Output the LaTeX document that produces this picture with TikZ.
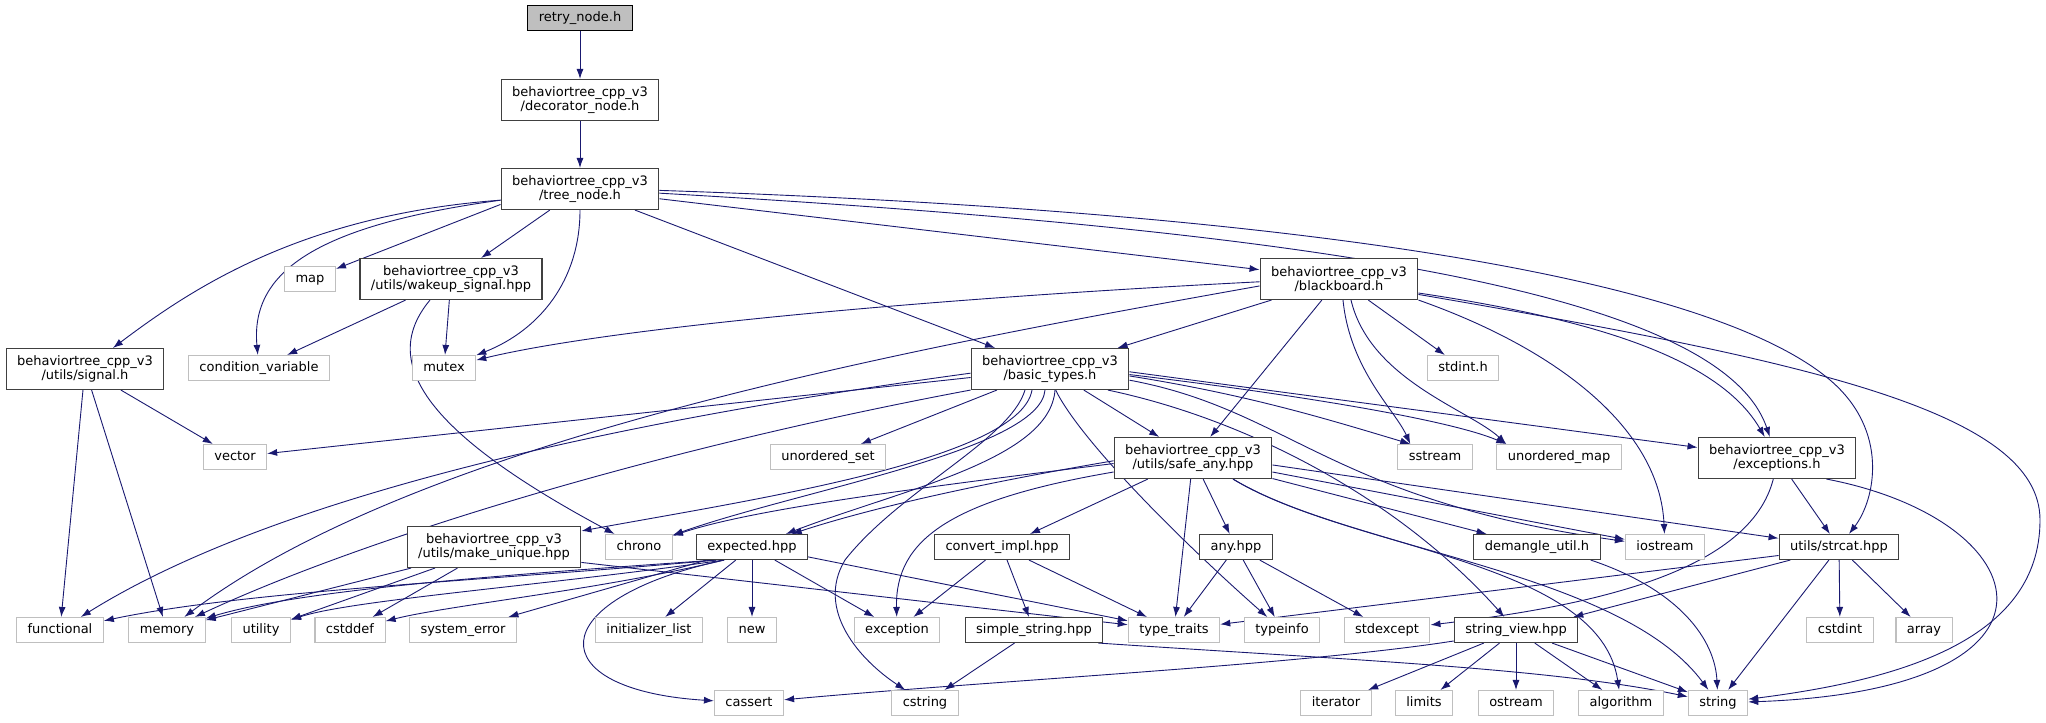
\documentclass[tikz,border=0pt]{standalone}
\usepackage{fontspec}
\setmainfont{DejaVu Sans}
\usetikzlibrary{positioning}
\usetikzlibrary{arrows.meta}
\usetikzlibrary{backgrounds}
\usetikzlibrary{calc}

\definecolor{edgeblue}{HTML}{191970}
\definecolor{incgray}{HTML}{404040}
\definecolor{sysgray}{HTML}{BFBFBF}

\begin{document}
\begin{tikzpicture}[x=1pt, y=-1pt,
    filebox/.style={rectangle, fill=white, line width=1.1pt, inner xsep=11pt, inner ysep=0pt, font=\fontsize{13}{14.5}\selectfont},
    onerow/.style={filebox, text height=9.6pt, text depth=3.2pt, minimum height=25pt},
    tworow/.style={filebox, align=center, minimum height=41pt},
    inc/.style={draw=incgray},
    sys/.style={draw=sysgray},
    rootbox/.style={onerow, draw=black, fill=sysgray},
    dep/.style={edgeblue, line width=0.9pt, -{Latex[length=10pt,width=7pt]}}]
%     \draw[help lines](0,0) grid[step=100] (2046,723);

    \useasboundingbox (0,0) rectangle (2046,723);

    %%%% headers of the project %%%%

    \node[rootbox] (retry) at (580,18) {retry\_node.h};
    \node[tworow, inc] (deco) at ($(retry)+(0,82)$) {behaviortree\_cpp\_v3\\/decorator\_node.h};
    \node[tworow, inc] (tree) at ($(deco)+(0,89)$) {behaviortree\_cpp\_v3\\/tree\_node.h};

    \node[tworow, inc] (wakeup) at (451,279) {behaviortree\_cpp\_v3\\/utils/wakeup\_signal.hpp};
    \node[tworow, inc] (board) at (1339,279) {behaviortree\_cpp\_v3\\/blackboard.h};
    \node[tworow, inc] (signal) at (85,369) {behaviortree\_cpp\_v3\\/utils/signal.h};
    \node[tworow, inc] (basic) at (1050,369) {behaviortree\_cpp\_v3\\/basic\_types.h};
    \node[tworow, inc] (safeany) at (1193,458) {behaviortree\_cpp\_v3\\/utils/safe\_any.hpp};
    \node[tworow, inc] (except) at (1777,458) {behaviortree\_cpp\_v3\\/exceptions.h};
    \node[tworow, inc] (mkuniq) at (494,547) {behaviortree\_cpp\_v3\\/utils/make\_unique.hpp};

    \node[onerow, inc] (expected) at (752,547) {expected.hpp};
    \node[onerow, inc] (convert) at (1002,547) {convert\_impl.hpp};
    \node[onerow, inc] (anyhpp) at (1236,547) {any.hpp};
    \node[onerow, inc] (demangle) at (1537,547) {demangle\_util.h};
    \node[onerow, inc] (strcat) at (1839,547) {utils/strcat.hpp};
    \node[onerow, inc] (simplestr) at (1034,630) {simple\_string.hpp};
    \node[onerow, inc] (strview) at (1516,630) {string\_view.hpp};

    %%%% system headers %%%%

    \node[onerow, sys] (map) at (310,279) {map};
    \node[onerow, sys] (condvar) at (259,368) {condition\_variable};
    \node[onerow, sys] (mutex) at (444,368) {mutex};
    \node[onerow, sys] (stdint) at (1463,368) {stdint.h};
    \node[onerow, sys] (vector) at (235,457) {vector};
    \node[onerow, sys] (uset) at (828,457) {unordered\_set};
    \node[onerow, sys] (sstream) at (1435,457) {sstream};
    \node[onerow, sys] (umap) at (1559,457) {unordered\_map};
    \node[onerow, sys] (chrono) at (639,547) {chrono};
    \node[onerow, sys] (iostream) at (1665,547) {iostream};

    \node[onerow, sys] (functional) at (60,630) {functional};
    \node[onerow, sys] (memory) at (167,630) {memory};
    \node[onerow, sys] (utility) at (261,630) {utility};
    \node[onerow, sys] (cstddef) at (350,630) {cstddef};
    \node[onerow, sys] (syserr) at (463,630) {system\_error};
    \node[onerow, sys] (initlist) at (649,630) {initializer\_list};
    \node[onerow, sys] (new) at (752,630) {new};
    \node[onerow, sys] (exception) at (897,630) {exception};
    \node[onerow, sys] (ttraits) at (1174,630) {type\_traits};
    \node[onerow, sys] (typeinfo) at (1282,630) {typeinfo};
    \node[onerow, sys] (stdexcept) at (1387,630) {stdexcept};
    \node[onerow, sys] (cstdint) at (1840,630) {cstdint};
    \node[onerow, sys] (array) at (1924,630) {array};

    \node[onerow, sys] (cassert) at (749,703) {cassert};
    \node[onerow, sys] (cstring) at (925,703) {cstring};
    \node[onerow, sys] (iterator) at (1336,703) {iterator};
    \node[onerow, sys] (limits) at (1424,703) {limits};
    \node[onerow, sys] (ostream) at (1516,703) {ostream};
    \node[onerow, sys] (algorithm) at (1621,703) {algorithm};
    \node[onerow, sys] (string) at (1718,703) {string};

    \begin{scope}[on background layer]

    %%% retry_node.h -> tree_node.h %%%

    \path[dep] (retry) edge (deco);
    \path[dep] (deco) edge (tree);

    %%% tree_node.h %%%

    \draw[dep] (tree.188) .. controls (300,215) and (190,290) .. (signal);
    \draw[dep] (tree.188) .. controls (320,225) and (250,270) .. (condvar);
    \path[dep] (tree.191) edge (map);
    \path[dep] (tree) edge (wakeup);
    \draw[dep] (tree.south) .. controls (580,280) and (540,330) .. (mutex);
    \path[dep] (tree) edge (basic);
    \path[dep] (tree.353) edge (board);
    \draw[dep] (tree.357) .. controls (1300,230) and (1720,290) .. (except);
    \draw[dep] (tree.359) .. controls (1250,210) and (1700,270) .. (1830,380) .. controls (1890,431) and (1875,500) .. (strcat);

    %%% signal.h %%%

    \path[dep] (signal) edge (functional);
    \path[dep] (signal) edge (memory);
    \path[dep] (signal) edge (vector);

    %%% wakeup_signal.hpp %%%

    \path[dep] (wakeup) edge (condvar);
    \path[dep] (wakeup) edge (mutex);
    \draw[dep] ([xshift=-21pt]wakeup.south) .. controls (380,360) and (420,430) .. (chrono);

    %%% blackboard.h %%%

    \draw[dep] (board.182) .. controls (900,300) and (600,330) .. (mutex);
    \draw[dep] (board.185) .. controls (900,350) and (420,440) .. (memory);
    \path[dep] (board) edge (basic);
    \path[dep] (board) edge (safeany);
    \path[dep] (board) edge (stdint);
    \draw[dep] ([xshift=4pt]board.south) .. controls (1350,370) and (1395,410) .. ([xshift=13pt]sstream.north west);
    \draw[dep] ([xshift=12pt]board.south) .. controls (1370,380) and (1470,410) .. ([xshift=10pt]umap.north west);
    \draw[dep] (board.south east) .. controls (1560,350) and (1660,430) .. (iostream);
    \draw[dep] (board.350) .. controls (1600,320) and (1720,360) .. (except);
    \draw[dep] (board.349) .. controls (1800,360) and (2040,410) .. (2040,520) .. controls (2040,640) and (1900,680) .. (string);

    %%% basic_types.h %%%

    \path[dep] (basic) edge (vector);
    \draw[dep] (basic.183) .. controls (700,410) and (300,480) .. (functional);
    \draw[dep] (basic.south west) .. controls (650,450) and (360,540) .. (memory);
    \path[dep] (basic) edge (uset);
    \draw[dep] ([xshift=-5pt]basic.south) .. controls (1040,450) and (800,490) .. (chrono);
    \draw[dep] ([xshift=-18pt]basic.south) .. controls (1020,460) and (750,500) .. (mkuniq);
    \draw[dep] ([xshift=5pt]basic.south) .. controls (1050,460) and (900,490) .. (expected);
    \draw[dep] ([xshift=-25pt]basic.south) .. controls (1010,440) and (900,490) .. (845,560) .. controls (815,610) and (860,660) .. (cstring);
    \draw[dep] (basic.285) .. controls (1080,440) and (1180,540) .. (typeinfo);
    \path[dep] (basic) edge (safeany);
    \draw[dep] (basic.355) .. controls (1250,395) and (1330,420) .. ([xshift=13pt]sstream.north west);
    \draw[dep] (basic.356) .. controls (1300,395) and (1450,420) .. ([xshift=10pt]umap.north west);
    \path[dep] (basic.358) edge (except);
    \draw[dep] (basic.352) .. controls (1290,410) and (1330,500) .. (iostream);
    \draw[dep] (basic.340) .. controls (1250,420) and (1400,500) .. (strview);

    %%% safe_any.hpp %%%

    \path[dep] (safeany) edge (convert);
    \path[dep] (safeany) edge (ttraits);
    \path[dep] (safeany) edge (anyhpp);
    \path[dep] (safeany) edge (demangle);
    \path[dep] (safeany.350) edge (iostream);
    \path[dep] (safeany.355) edge (strcat);
    \draw[dep] ([xshift=40pt]safeany.south) .. controls (1350,550) and (1600,560) .. (algorithm);
    \draw[dep] ([xshift=40pt]safeany.south) .. controls (1350,550) and (1620,570) .. (string);
    \draw[dep] (safeany.184) .. controls (900,490) and (750,510) .. (chrono);
    \draw[dep] (safeany.182) .. controls (1000,480) and (880,505) .. (expected);
    \draw[dep] (safeany.190) .. controls (950,500) and (895,540) .. (exception);

    %%% make_unique.hpp %%%

    \path[dep] (mkuniq) edge (memory);
    \path[dep] (mkuniq) edge (utility);
    \path[dep] (mkuniq) edge (cstddef);
    \path[dep] (mkuniq.350) edge (ttraits);

    %%% expected.hpp %%%

    \draw[dep] (expected.200) .. controls (500,580) and (250,590) .. (functional);
    \draw[dep] (expected.200) .. controls (500,575) and (300,590) .. (memory);
    \draw[dep] (expected.205) .. controls (550,585) and (350,600) .. (utility);
    \draw[dep] (expected.205) .. controls (600,590) and (450,605) .. (cstddef);
    \path[dep] (expected) edge (syserr);
    \path[dep] (expected) edge (initlist);
    \path[dep] (expected) edge (new);
    \path[dep] (expected) edge (exception);
    \path[dep] (expected.350) edge (ttraits);
    \draw[dep] (expected.205) .. controls (540,600) and (540,690) .. (cassert);

    %%% convert_impl.hpp, any.hpp, demangle_util.h %%%

    \path[dep] (convert) edge (exception);
    \path[dep] (convert) edge (simplestr);
    \path[dep] (convert) edge (ttraits);

    \path[dep] (anyhpp) edge (ttraits);
    \path[dep] (anyhpp) edge (typeinfo);
    \path[dep] (anyhpp) edge (stdexcept);

    \draw[dep] ([xshift=-10pt]demangle.south east) .. controls (1680,590) and (1715,640) .. (string);

    %%% exceptions.h %%%

    \path[dep] (except) edge (strcat);
    \draw[dep] ([xshift=-30pt]except.south east) .. controls (2040,520) and (2090,690) .. (string);
    \draw[dep] (except.260) .. controls (1750,570) and (1600,605) .. (stdexcept);

    %%% strcat.hpp %%%

    \path[dep] (strcat.188) edge (ttraits);
    \path[dep] (strcat.195) edge ([xshift=-5pt]strview.north east);
    \path[dep] (strcat) edge (cstdint);
    \path[dep] (strcat) edge (array);
    \path[dep] (strcat) edge (string);

    %%% string_view.hpp, simple_string.hpp %%%

    \path[dep] (strview) edge (iterator);
    \path[dep] (strview) edge (limits);
    \path[dep] (strview) edge (ostream);
    \path[dep] (strview) edge (algorithm);
    \path[dep] (strview) edge (string);
    \draw[dep] (strview.190) .. controls (1300,665) and (1000,680) .. (cassert);

    \path[dep] (simplestr) edge (cstring);
    \draw[dep] ([xshift=-5pt]simplestr.south east) .. controls (1350,660) and (1550,668) .. (string);

    \end{scope}

\end{tikzpicture}
\end{document}
